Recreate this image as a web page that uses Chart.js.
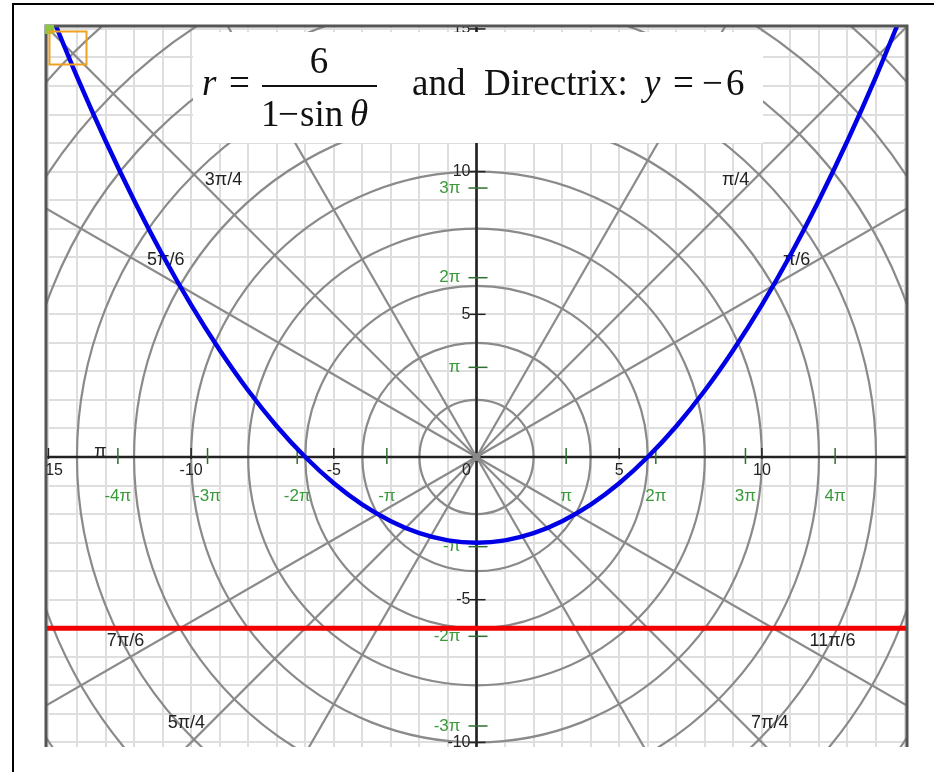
<!DOCTYPE html>
<html><head><meta charset="utf-8">
<style>html,body{margin:0;padding:0;background:#fff;}canvas{display:block;}</style>
<script src="https://cdn.jsdelivr.net/npm/chart.js@4.4.1/dist/chart.umd.min.js"></script>
</head><body>
<canvas id="c" width="934" height="772"></canvas>
<script>
// ---------- data ----------
const curveX = [-15,-14,-13,-12,-11,-10,-9,-8,-7,-6,-5,-4,-3,-2,-1,0,1,2,3,4,5,6,7,8,9,10,11,12,13,14,15];
const curveY = [15.75,13.33,11.08,9.0,7.08,5.33,3.75,2.33,1.08,0,-0.92,-1.67,-2.25,-2.67,-2.92,-3.0,-2.92,-2.67,-2.25,-1.67,-0.92,0,1.08,2.33,3.75,5.33,7.08,9.0,11.08,13.33,15.75];
const directrixX = [-16, 16];
const directrixY = [-6, -6];

const xTickValues = [-15,-10,-5,0,5,10];
const xTickLabels = ['-15','-10','-5','0','5','10'];
const yTickValues = [15,10,5,-5,-10];
const yTickLabels = ['15','10','5','-5','-10'];
const xPiMultiples = [-4,-3,-2,-1,1,2,3,4];
const xPiLabels = ['-4π','-3π','-2π','-π','π','2π','3π','4π'];
const yPiMultiples = [-3,-2,-1,1,2,3,4];
const yPiLabels = ['-3π','-2π','-π','π','2π','3π','4π'];

const circleRadii = [2,4,6,8,10,12,14,16,18,20,22];
const rayAnglesDeg = [0,30,45,60,90,120,135,150,180,210,225,240,270,300,315,330];
const angleLabels = ['π/6','π/4','π/3','π/2','2π/3','3π/4','5π/6','π','7π/6','5π/4','4π/3','3π/2','5π/3','7π/4','11π/6'];

// ---------- layout (label spots in polar units: radius, degrees) ----------
const angleLabelSpots = [[13.17,31.6],[13.29,46.9],[13.2,61.5],[13.2,91],[13.2,118.5],[13.15,132.4],[12.9,147.6],[13.18,179.2],[13.89,207.7],[13.79,222.5],[13.9,237.5],[13.9,270],[13.9,302.5],[13.87,317.8],[14.04,332.7]];

const X_MIN = -15.05, X_MAX = 15.05, Y_MIN = -10.161, Y_MAX = 15.068;
const GREEN = '#3a9a3a', GREEN_TICK = '#2f6f2f';
const SANS = '"Liberation Sans", Arial, sans-serif';

const polarPlugin = {
  id: 'polarPaper',
  beforeDatasetsDraw(chart) {
    const {ctx, chartArea: a, scales: {x, y}} = chart;
    const ox = x.getPixelForValue(0), oy = y.getPixelForValue(0);
    ctx.save();
    ctx.beginPath(); ctx.rect(a.left, a.top, a.right - a.left, a.bottom - a.top); ctx.clip();
    // polar circles
    ctx.strokeStyle = '#8a8a8a'; ctx.lineWidth = 2.2;
    circleRadii.forEach(r => {
      ctx.beginPath(); ctx.arc(ox, oy, x.getPixelForValue(r) - ox, 0, Math.PI * 2); ctx.stroke();
    });
    // rays
    rayAnglesDeg.forEach(d => {
      const t = d * Math.PI / 180;
      ctx.beginPath(); ctx.moveTo(ox, oy);
      ctx.lineTo(x.getPixelForValue(30 * Math.cos(t)), y.getPixelForValue(30 * Math.sin(t)));
      ctx.stroke();
    });
    // axes
    ctx.strokeStyle = '#222'; ctx.lineWidth = 2.5;
    ctx.beginPath(); ctx.moveTo(a.left, oy); ctx.lineTo(a.right, oy); ctx.stroke();
    ctx.beginPath(); ctx.moveTo(ox, a.top); ctx.lineTo(ox, a.bottom); ctx.stroke();
    // origin dot
    ctx.fillStyle = '#888'; ctx.beginPath(); ctx.arc(ox, oy, 4, 0, Math.PI * 2); ctx.fill();
    // black ticks
    ctx.strokeStyle = '#222'; ctx.lineWidth = 1.5;
    xTickValues.forEach(v => { if (v === 0) return; const px = x.getPixelForValue(v);
      ctx.beginPath(); ctx.moveTo(px, oy - 9); ctx.lineTo(px, oy + 2); ctx.stroke(); });
    yTickValues.forEach(v => { const py = y.getPixelForValue(v);
      ctx.beginPath(); ctx.moveTo(ox - 7, py); ctx.lineTo(ox + 9, py); ctx.stroke(); });
    // green pi ticks
    ctx.strokeStyle = GREEN_TICK;
    xPiMultiples.forEach(m => { const px = x.getPixelForValue(m * Math.PI);
      ctx.beginPath(); ctx.moveTo(px, oy - 9); ctx.lineTo(px, oy + 7); ctx.stroke(); });
    yPiMultiples.forEach(m => { const py = y.getPixelForValue(m * Math.PI);
      ctx.beginPath(); ctx.moveTo(ox - 8, py); ctx.lineTo(ox + 11, py); ctx.stroke(); });
    // numeric labels
    ctx.font = '16px ' + SANS;
    ctx.fillStyle = '#222';
    ctx.textAlign = 'center'; ctx.textBaseline = 'top';
    xTickValues.forEach((v, i) => {
      const px = x.getPixelForValue(v) + (v === 0 ? -10 : (v === -15 ? 3 : 0));
      ctx.fillText(xTickLabels[i], px, oy + 6);
    });
    ctx.textAlign = 'right'; ctx.textBaseline = 'middle';
    yTickValues.forEach((v, i) => ctx.fillText(yTickLabels[i], ox - 6, y.getPixelForValue(v)));
    // green labels
    ctx.fillStyle = GREEN; ctx.font = '17px ' + SANS;
    ctx.textAlign = 'center';
    xPiMultiples.forEach((m, i) => ctx.fillText(xPiLabels[i], x.getPixelForValue(m * Math.PI), oy + 39));
    ctx.textAlign = 'right';
    yPiMultiples.forEach((m, i) => ctx.fillText(yPiLabels[i], ox - 16, y.getPixelForValue(m * Math.PI)));
    // angle labels
    ctx.fillStyle = '#222'; ctx.font = '18px ' + SANS;
    ctx.textAlign = 'center';
    angleLabels.forEach((lab, i) => {
      const [r, d] = angleLabelSpots[i]; const t = d * Math.PI / 180;
      ctx.fillText(lab, x.getPixelForValue(r * Math.cos(t)), y.getPixelForValue(r * Math.sin(t)));
    });
    ctx.restore();
  },
  afterDatasetsDraw(chart) {
    const {ctx, chartArea: a} = chart;
    ctx.save();
    // plot frame (left, top, right)
    ctx.strokeStyle = '#555'; ctx.lineWidth = 3;
    ctx.beginPath();
    ctx.moveTo(a.left - 1, a.bottom); ctx.lineTo(a.left - 1, a.top - 1);
    ctx.lineTo(a.right + 1, a.top - 1); ctx.lineTo(a.right + 1, a.bottom);
    ctx.stroke();
    // title box
    ctx.fillStyle = '#fff'; ctx.fillRect(193, 32, 570, 111);
    ctx.fillStyle = '#111'; ctx.textAlign = 'left'; ctx.textBaseline = 'alphabetic';
    const serif = '"Liberation Serif", "Times New Roman", serif';
    const F = '37px ';
    ctx.font = 'italic ' + F + serif; ctx.fillText('r', 202, 95);
    ctx.font = F + serif; ctx.fillText('=', 229, 95);
    ctx.textAlign = 'center'; ctx.fillText('6', 319, 73);
    ctx.fillRect(262, 85, 115, 2);
    ctx.textAlign = 'left';
    ctx.fillText('1', 261, 126);
    ctx.fillText('\u2212', 278, 126);
    ctx.fillText('sin', 300, 126);
    ctx.font = 'italic ' + F + serif; ctx.fillText('\u03B8', 350, 126);
    ctx.font = F + serif;
    ctx.fillText('and', 412, 95);
    ctx.fillText('Directrix:', 484, 95);
    ctx.font = 'italic ' + F + serif; ctx.fillText('y', 644, 95);
    ctx.font = F + serif;
    ctx.fillText('=', 673, 95);
    ctx.fillText('\u2212', 702, 95);
    ctx.fillText('6', 726, 95);
    // selection markers in corner
    ctx.fillStyle = '#8dc63f'; ctx.fillRect(45, 25, 9, 9);
    ctx.strokeStyle = '#f0a020'; ctx.lineWidth = 2; ctx.strokeRect(49.5, 31.5, 37, 33);
    ctx.restore();
  },
  afterDraw(chart) {
    const ctx = chart.ctx;
    ctx.save();
    ctx.strokeStyle = '#000'; ctx.lineWidth = 2;
    ctx.beginPath(); ctx.moveTo(13, 772); ctx.lineTo(13, 4); ctx.lineTo(934, 4); ctx.stroke();
    ctx.restore();
  }
};

const toPoints = (xs, ys) => xs.map((v, i) => ({x: v, y: ys[i]}));

new Chart(document.getElementById('c'), {
  type: 'line',
  data: {
    datasets: [
      { label: 'r = 6/(1 − sin θ)', data: toPoints(curveX, curveY), borderColor: '#0000e6', borderWidth: 4.5,
        pointRadius: 0, cubicInterpolationMode: 'monotone', fill: false, clip: 0 },
      { label: 'Directrix y = −6', data: toPoints(directrixX, directrixY), borderColor: '#f00000', borderWidth: 5,
        pointRadius: 0, fill: false, clip: 0 }
    ]
  },
  options: {
    responsive: false, animation: false, devicePixelRatio: 1,
    layout: { padding: { left: 47, top: 27, right: 28, bottom: 25 } },
    plugins: { legend: { display: false }, tooltip: { enabled: false }, title: { display: false } },
    scales: {
      x: { type: 'linear', min: X_MIN, max: X_MAX,
           ticks: { display: false, stepSize: 1, includeBounds: false },
           grid: { color: '#dedede', lineWidth: 2, drawTicks: false }, border: { display: false } },
      y: { type: 'linear', min: Y_MIN, max: Y_MAX,
           ticks: { display: false, stepSize: 1, includeBounds: false },
           grid: { color: '#dedede', lineWidth: 2, drawTicks: false }, border: { display: false } }
    }
  },
  plugins: [polarPlugin]
});
</script>
</body></html>
